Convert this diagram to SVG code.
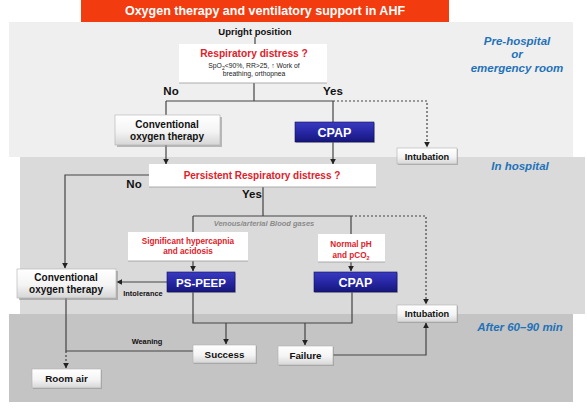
<svg xmlns="http://www.w3.org/2000/svg" width="587" height="409" viewBox="0 0 587 409">
<defs>
<linearGradient id="gGray" x1="0" y1="0" x2="0" y2="1">
<stop offset="0" stop-color="#ffffff"/><stop offset="0.55" stop-color="#f4f4f4"/><stop offset="1" stop-color="#d6d6d6"/>
</linearGradient>
<linearGradient id="gBlue" x1="0" y1="0" x2="0" y2="1">
<stop offset="0" stop-color="#3a3ac0"/><stop offset="0.5" stop-color="#2727a6"/><stop offset="1" stop-color="#16167a"/>
</linearGradient>
<marker id="arr" viewBox="0 0 10 10" refX="9" refY="5" markerWidth="5" markerHeight="5" orient="auto">
<path d="M0,0 L10,5 L0,10 z" fill="#222"/>
</marker>
</defs>
<style>
.conn{fill:none;stroke:#444;stroke-width:1.2}
.dot{fill:none;stroke:#444;stroke-width:1.2;stroke-dasharray:2,2}
.gbox{fill:url(#gGray);stroke:#b0b0b0;stroke-width:0.6}
.bbox{fill:url(#gBlue);stroke:#10105a;stroke-width:0.6}
.wbox{fill:#ffffff}
.shd{fill:#8a8a8a;opacity:0.55}
.t{font-family:"Liberation Sans",Arial,sans-serif;font-weight:bold;text-anchor:middle}
.blk{fill:#111}
.red{fill:#e0202a}
.wh{fill:#ffffff}
.zone{font-family:"Liberation Sans",Arial,sans-serif;font-weight:bold;font-style:italic;fill:#1f72b8;font-size:11.5px;text-anchor:middle}
</style>
<rect width="587" height="409" fill="#ffffff"/>
<!-- bands -->
<rect x="9" y="22" width="564" height="135" fill="#efefef"/>
<rect x="20" y="157" width="565" height="157" fill="#dadada"/>
<rect x="9" y="314" width="564" height="88" fill="#c4c4c4"/>
<!-- title -->
<g id="title">
<rect x="81" y="0" width="368" height="22" fill="#f23b0e"/>
<text x="265" y="15" class="t wh" font-size="12.5">Oxygen therapy and ventilatory support in AHF</text>
</g>
<g id="zones">
<text x="517" y="45" class="zone">Pre-hospital</text>
<text x="517" y="58" class="zone">or</text>
<text x="517" y="72" class="zone">emergency room</text>
<text x="520" y="170" class="zone">In hospital</text>
<text x="520" y="331" class="zone">After 60–90 min</text>
</g>
<!-- connectors -->
<g id="connectors">
<path class="conn" d="M255,37 V44"/>
<path class="conn" d="M254,83 V101 M166,101 H333 M166,101 V115 M333,101 V122"/>
<path class="dot" d="M333,101 H427 V147" marker-end="url(#arr)"/>
<path class="conn" d="M166,145 V164" marker-end="url(#arr)"/>
<path class="conn" d="M333,142 V164" marker-end="url(#arr)"/>
<path class="conn" d="M149,175 H65 V268" marker-end="url(#arr)"/>
<path class="conn" d="M263,187 V216 M193,216 H351 M193,216 V232 M351,216 V234"/>
<path class="dot" d="M351,216 H426 V304" marker-end="url(#arr)"/>
<path class="conn" d="M193,261 V271" marker-end="url(#arr)"/>
<path class="conn" d="M351,262 V271" marker-end="url(#arr)"/>
<path class="conn" d="M167,282 H117" marker-end="url(#arr)"/>
<path class="conn" d="M193,292 V323 H352 V292"/>
<path class="conn" d="M226,323 V344" marker-end="url(#arr)"/>
<path class="conn" d="M305,323 V345" marker-end="url(#arr)"/>
<path class="conn" d="M333,355 H426 V323" marker-end="url(#arr)"/>
<path class="conn" d="M66,298 V351 H193"/>
<path class="dot" d="M66,351 V368" marker-end="url(#arr)"/>
</g>
<!-- labels -->
<g id="labels">
<text x="171" y="95" class="t blk" font-size="11.5">No</text>
<text x="333" y="95" class="t blk" font-size="11.5">Yes</text>
<text x="134" y="188" class="t blk" font-size="11.5">No</text>
<text x="252" y="198" class="t blk" font-size="11.5">Yes</text>
<text x="264" y="226" class="t" font-size="7.5" font-style="italic" fill="#8a8a8a">Venous/arterial Blood gases</text>
<text x="143" y="296" class="t blk" font-size="7.4">Intolerance</text>
<text x="147" y="344" class="t blk" font-size="7.4">Weaning</text>
</g>
<g id="upright">
<text x="255" y="35" class="t blk" font-size="9.5">Upright position</text>
</g>
<g id="resp-distress">
<rect x="179" y="44" width="148" height="39" class="wbox"/>
<path d="M179,83 H327" stroke="#9a9a9a" stroke-width="0.8"/>
<text x="254" y="57" class="t red" font-size="10.2">Respiratory distress ?</text>
<text x="254" y="68" font-family="Liberation Sans,Arial,sans-serif" font-size="6.8" text-anchor="middle" fill="#222">SpO<tspan font-size="5" dy="1.5">2</tspan><tspan dy="-1.5">&lt;90%, RR&gt;25, ↑ Work of</tspan></text>
<text x="254" y="76" font-family="Liberation Sans,Arial,sans-serif" font-size="6.8" text-anchor="middle" fill="#222">breathing, orthopnea</text>
</g>
<g id="conv-oxygen-1">
<rect x="117" y="117" width="105" height="30" class="shd"/>
<rect x="115" y="115" width="105" height="30" class="gbox"/>
<text x="167" y="127.5" class="t blk" font-size="10">Conventional</text>
<text x="167" y="139.5" class="t blk" font-size="10">oxygen therapy</text>
</g>
<g id="cpap-1">
<rect x="296" y="123" width="79" height="20" class="shd"/>
<rect x="295" y="122" width="79" height="20" class="bbox"/>
<text x="334.5" y="137" class="t wh" font-size="12.5">CPAP</text>
</g>
<g id="intubation-1">
<rect x="398" y="149" width="60" height="16" class="shd"/>
<rect x="397" y="148" width="60" height="16" class="gbox"/>
<text x="427" y="159.5" class="t blk" font-size="9.2">Intubation</text>
</g>
<g id="persistent">
<rect x="149" y="164" width="227" height="23" class="wbox"/>
<path d="M149,187 H376" stroke="#9a9a9a" stroke-width="0.8"/>
<text x="262" y="179" class="t red" font-size="10">Persistent Respiratory distress ?</text>
</g>
<g id="hypercapnia">
<rect x="128" y="232" width="120" height="29" class="wbox"/>
<path d="M128,261 H248" stroke="#9a9a9a" stroke-width="0.8"/>
<text x="188" y="244" class="t red" font-size="8.2">Significant hypercapnia</text>
<text x="188" y="254" class="t red" font-size="8.2">and acidosis</text>
</g>
<g id="normal-ph">
<rect x="318" y="234" width="67" height="28" class="wbox"/>
<path d="M318,262 H385" stroke="#9a9a9a" stroke-width="0.8"/>
<text x="351" y="247" class="t red" font-size="8.2">Normal pH</text>
<text x="351" y="258" class="t red" font-size="8.2">and pCO<tspan font-size="5.5" dy="1.5">2</tspan></text>
</g>
<g id="ps-peep">
<rect x="168" y="273" width="68" height="20" class="shd"/>
<rect x="167" y="272" width="68" height="20" class="bbox"/>
<text x="201" y="286.5" class="t wh" font-size="11.5">PS-PEEP</text>
</g>
<g id="cpap-2">
<rect x="315" y="273" width="83" height="20" class="shd"/>
<rect x="314" y="272" width="83" height="20" class="bbox"/>
<text x="355.5" y="287" class="t wh" font-size="12.5">CPAP</text>
</g>
<g id="conv-oxygen-2">
<rect x="19" y="271" width="99" height="29" class="shd"/>
<rect x="17" y="269" width="99" height="29" class="gbox"/>
<text x="66" y="281" class="t blk" font-size="10">Conventional</text>
<text x="66" y="293" class="t blk" font-size="10">oxygen therapy</text>
</g>
<g id="intubation-2">
<rect x="398" y="306" width="60" height="17" class="shd"/>
<rect x="397" y="305" width="60" height="17" class="gbox"/>
<text x="427" y="317" class="t blk" font-size="9.2">Intubation</text>
</g>
<g id="success">
<rect x="194" y="346" width="63" height="18" class="shd"/>
<rect x="193" y="345" width="63" height="18" class="gbox"/>
<text x="224.5" y="357.5" class="t blk" font-size="9.8">Success</text>
</g>
<g id="failure">
<rect x="279" y="347" width="55" height="19" class="shd"/>
<rect x="278" y="346" width="55" height="19" class="gbox"/>
<text x="305.5" y="359" class="t blk" font-size="9.8">Failure</text>
</g>
<g id="room-air">
<rect x="33" y="370" width="69" height="19" class="shd"/>
<rect x="32" y="369" width="69" height="19" class="gbox"/>
<text x="66.5" y="382" class="t blk" font-size="9.8">Room air</text>
</g>
</svg>
